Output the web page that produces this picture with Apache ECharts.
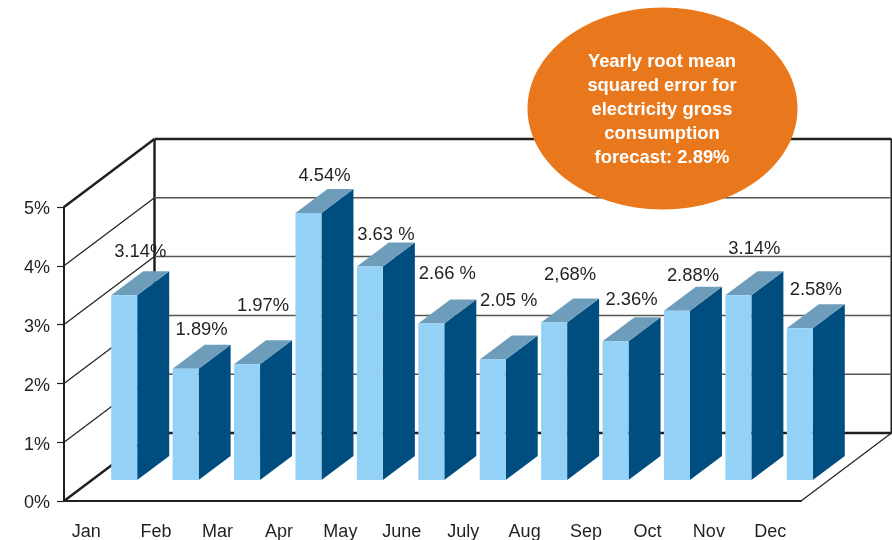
<!DOCTYPE html>
<html>
<head>
<meta charset="utf-8">
<style>
    html, body { margin: 0; padding: 0; background: #fff; }
    #chart { width: 892px; height: 540px; }
</style>
<script src="https://cdn.jsdelivr.net/npm/echarts@6/dist/echarts.min.js"></script>
</head>
<body>
<div id="chart"></div>
<script>
const months = ["Jan", "Feb", "Mar", "Apr", "May", "June", "July", "Aug", "Sep", "Oct", "Nov", "Dec"];
const rmse = [3.14, 1.89, 1.97, 4.54, 3.63, 2.66, 2.05, 2.68, 2.36, 2.88, 3.14, 2.58];
const rmseLabels = ["3.14%", "1.89%", "1.97%", "4.54%", "3.63 %", "2.66 %", "2.05 %", "2,68%", "2.36%", "2.88%", "3.14%", "2.58%"];
const gridTicks = [0, 1, 2, 3, 4, 5];
const noteLines = [
    "Yearly root mean",
    "squared error for",
    "electricity gross",
    "consumption",
    "forecast: 2.89%"
];

// how far each label floats above the bar's back edge, the source placed them by hand
const labelLift = [19, 15, 34, 13, 8, 26, 35, 23, 17, 11, 22, 14];

// fake 3D: depth of the whole box, and of one bar
const WALL_DX = 90.5;
const WALL_DY = -68;
const BAR_SHIFT_X = 29.5;
const BAR_SHIFT_Y = -21;
const BAR_W = 26;
const BAR_DX = 32;
const BAR_DY = -24;

const INK = "#231f20";

function line(x1, y1, x2, y2, stroke, width) {
    return {
        type: "line",
        shape: { x1, y1, x2, y2 },
        style: { stroke, lineWidth: width }
    };
}

function renderWall(params, api) {
    const tick = api.value(0);
    const left = api.coord([0, tick]);
    const front = [64, left[1]];
    const backLeft = [front[0] + WALL_DX, front[1] + WALL_DY];
    const backRight = [801 + WALL_DX, backLeft[1]];
    const heavy = tick === 0 || tick === 5;

    const children = [
        line(front[0], front[1], backLeft[0], backLeft[1], INK, heavy ? 2.5 : 1.2),
        line(backLeft[0], backLeft[1], backRight[0], backRight[1], heavy ? INK : "#5a5653", heavy ? 2.5 : 1.5)
    ];
    if (tick === 0) {
        // floor edge on the right, then the two upright back edges
        const top = api.coord([0, 5])[1] + WALL_DY;
        children.push(line(801, front[1], backRight[0], backRight[1], INK, 1.2));
        children.push(line(backLeft[0], backLeft[1], backLeft[0], top, INK, 2.5));
        children.push(line(backRight[0], backRight[1], backRight[0], top, INK, 2));
    }
    return { type: "group", children };
}

function renderBar(params, api) {
    const i = api.value(0);
    const center = api.coord([i, 0]);
    const tip = api.coord([i, api.value(1)]);
    const x0 = center[0] + BAR_SHIFT_X - BAR_W / 2;
    const x1 = x0 + BAR_W;
    const yBase = center[1] + BAR_SHIFT_Y;
    const yTop = tip[1] + BAR_SHIFT_Y;

    return {
        type: "group",
        children: [
            {
                type: "polygon",
                shape: { points: [[x1, yTop], [x1 + BAR_DX, yTop + BAR_DY], [x1 + BAR_DX, yBase + BAR_DY], [x1, yBase]] },
                style: { fill: "#004e80" }
            },
            {
                type: "polygon",
                shape: { points: [[x0, yTop], [x0 + BAR_DX, yTop + BAR_DY], [x1 + BAR_DX, yTop + BAR_DY], [x1, yTop]] },
                style: { fill: "#6d9dbb" }
            },
            {
                type: "rect",
                shape: { x: x0, y: yTop, width: BAR_W, height: yBase - yTop },
                style: { fill: "#93d2f6" }
            }
        ]
    };
}

function renderBarLabel(params, api) {
    const i = api.value(0);
    const center = api.coord([i, 0]);
    const tip = api.coord([i, api.value(1)]);
    return {
        type: "text",
        x: center[0] + BAR_SHIFT_X + 16,
        y: tip[1] + BAR_SHIFT_Y + BAR_DY - labelLift[i],
        style: {
            text: rmseLabels[i],
            fill: INK,
            font: "18.4px 'Liberation Sans'",
            align: "center",
            verticalAlign: "middle"
        }
    };
}

const chart = echarts.init(document.getElementById("chart"));

chart.setOption({
    animation: false,
    backgroundColor: "#fff",
    textStyle: { fontFamily: "Liberation Sans" },
    grid: { left: 64, right: 91, top: 207, bottom: 39, outerBoundsMode: "none" },
    xAxis: {
        type: "category",
        // Jan sits left of its slot in the source
        data: months.map((m, i) => (i === 0 ? { value: m, textStyle: { padding: [0, 17, 0, 0] } } : m)),
        axisLine: { lineStyle: { color: INK, width: 2 } },
        axisTick: { alignWithLabel: false, length: 7, lineStyle: { color: INK, width: 1.2 } },
        axisLabel: { color: INK, fontSize: 18, margin: 22, interval: 0 }
    },
    yAxis: {
        type: "value",
        min: 0,
        max: 5,
        interval: 1,
        axisLine: { show: true, lineStyle: { color: INK, width: 2 } },
        axisTick: { show: true, length: 7, lineStyle: { color: INK, width: 1.2 } },
        axisLabel: { color: INK, fontSize: 18, margin: 14, verticalAlign: "top", lineHeight: 5, formatter: "{value}%" },
        splitLine: { show: false }
    },
    series: [
        {
            type: "custom",
            name: "walls",
            z: 1,
            clip: false,
            renderItem: renderWall,
            encode: { y: 0 },
            data: gridTicks.map(t => [t])
        },
        {
            type: "custom",
            name: "rmse",
            z: 2,
            clip: false,
            renderItem: renderBar,
            encode: { x: 0, y: 1 },
            data: rmse.map((v, i) => [i, v])
        },
        {
            type: "custom",
            name: "rmse labels",
            z: 3,
            clip: false,
            renderItem: renderBarLabel,
            encode: { x: 0, y: 1 },
            data: rmse.map((v, i) => [i, v])
        }
    ],
    graphic: [
        {
            type: "ellipse",
            z: 10,
            shape: { cx: 662.5, cy: 108.5, rx: 135, ry: 101 },
            style: { fill: "#e9781c" }
        },
        {
            type: "text",
            z: 11,
            x: 662,
            y: 110,
            style: {
                text: noteLines.join("\n"),
                fill: "#fff",
                font: "bold 18.4px 'Liberation Sans'",
                lineHeight: 24,
                align: "center",
                verticalAlign: "middle"
            }
        }
    ]
});
</script>
</body>
</html>
